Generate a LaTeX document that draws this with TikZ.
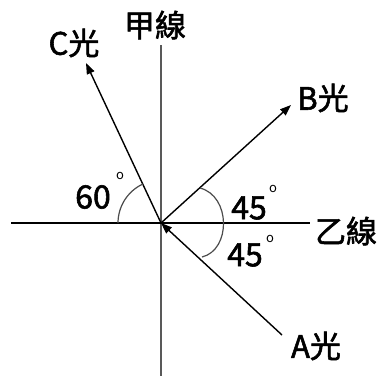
\documentclass[tikz,border=0pt]{standalone}
\usepackage{fontspec}
\setmainfont{Noto Sans CJK TC}
\newfontfamily\lblfont[FakeBold=1.8]{Noto Sans CJK TC}
\usetikzlibrary{arrows.meta}
\begin{document}
\begin{tikzpicture}[x=1pt,y=-1pt,
  lbl/.style={inner sep=0pt,font=\lblfont\fontsize{31}{33}\selectfont},
  deg/.style={inner sep=0pt,font=\lblfont\fontsize{32}{34}\selectfont},
  dego/.style={inner sep=0pt,font=\fontsize{13}{13}\selectfont},
  ray/.style={line width=1.4pt,-{Triangle[length=11pt,width=8pt]}},
  arcline/.style={line width=1.2pt,draw=black!70}]
\useasboundingbox (0,0) rectangle (382,376);
\fill[white] (0,0) rectangle (382,376);
\coordinate (O) at (161,223);
\coordinate (Vt) at (161,45);
\coordinate (Vb) at (161,376);
\coordinate (Hl) at (11,223);
\coordinate (Hr) at (310,223);
\coordinate (Ct) at (86,63);
\coordinate (Bt) at (291,105);
\coordinate (As) at (282,335);
\draw[line width=1.3pt,draw=black!65] (Vt) -- (Vb);
\draw[line width=2.5pt] (Hl) -- (Hr);
\draw[ray] (O) -- (Ct);
\draw[ray] (O) -- (Bt);
\draw[ray] (As) -- (O);
% arcs
\draw[arcline] (118,223) arc[start angle=180,end angle=245,radius=43];
\draw[arcline] (200,188) .. controls (231,196) and (231,250) .. (202,257);
% labels
\node[lbl] (jia) at (155,25) {甲線};
\node[lbl] (yi) at (346,231) {乙線};
\node[lbl] (cg) at (74,43) {C光};
\node[lbl] (bg) at (323,98) {B光};
\node[lbl] (ag) at (316,346) {A光};
\node[deg] (d60) at (93,197) {60};
\node[deg] (d45a) at (249,208) {45};
\node[deg] (d45b) at (245,255) {45};
\node[dego] (o1) at (120,176) {o};
\node[dego] (o2) at (273,189) {o};
\node[dego] (o3) at (270,239) {o};
\end{tikzpicture}
\end{document}
